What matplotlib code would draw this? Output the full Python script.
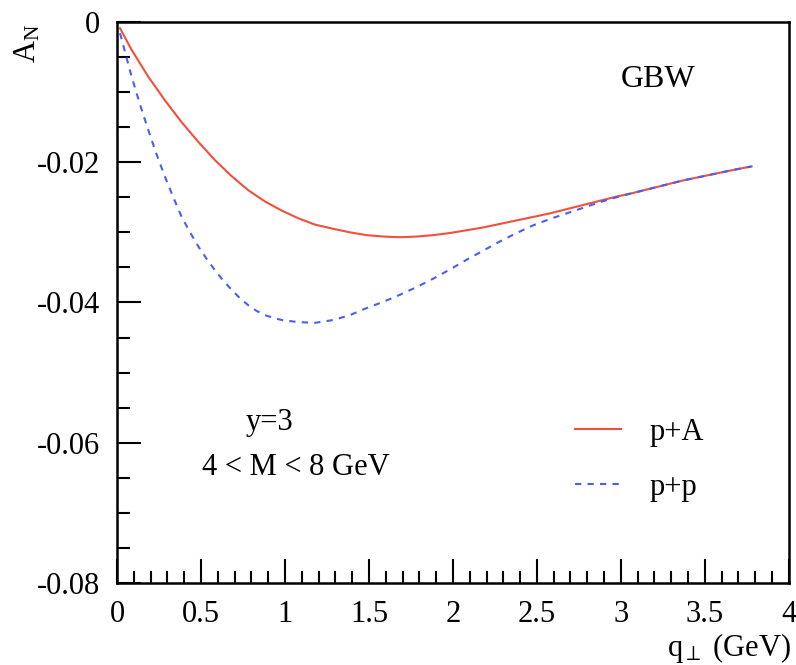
import matplotlib
matplotlib.use("Agg")
import matplotlib.pyplot as plt
from matplotlib.ticker import MultipleLocator, FuncFormatter

plt.rcParams['font.family'] = ['Liberation Serif', 'DejaVu Serif']
plt.rcParams['axes.unicode_minus'] = False
plt.rcParams['mathtext.fontset'] = 'custom'
plt.rcParams['mathtext.rm'] = 'Liberation Serif'
plt.rcParams['mathtext.it'] = 'Liberation Serif'

# data
q_pA = [0.018, 0.0875, 0.186, 0.286, 0.385, 0.484, 0.583, 0.683, 0.782, 0.881, 0.981,
        1.08, 1.179, 1.288, 1.387, 1.486, 1.586, 1.685, 1.784, 1.883, 1.982, 2.082,
        2.181, 2.280, 2.379, 2.478, 2.577, 2.676, 2.776, 2.875, 2.974, 3.07, 3.17,
        3.27, 3.37, 3.47, 3.57, 3.67, 3.778]
AN_pA = [-0.0009, -0.0040, -0.0078, -0.0112, -0.0143, -0.0171, -0.0197, -0.0220, -0.0240,
         -0.0256, -0.0269, -0.0280, -0.0289, -0.0295, -0.0300, -0.0304, -0.0306, -0.0307,
         -0.0306, -0.0304, -0.0301, -0.0297, -0.0293, -0.0288, -0.0283, -0.0278, -0.0273,
         -0.0267, -0.0261, -0.0255, -0.0249, -0.0244, -0.0238, -0.0232, -0.0226, -0.0221,
         -0.0216, -0.0211, -0.0206]

q_pp = [0.018, 0.05, 0.087, 0.136, 0.186, 0.236, 0.286, 0.335, 0.385, 0.435, 0.484, 0.534,
        0.583, 0.633, 0.683, 0.732, 0.782, 0.831, 0.881, 0.931, 0.981, 1.08, 1.179, 1.288,
        1.387, 1.486, 1.586, 1.685, 1.784, 1.883, 1.982, 2.082, 2.181, 2.280, 2.379, 2.478,
        2.577, 2.676, 2.776, 2.875, 2.974, 3.07, 3.17, 3.27, 3.37, 3.47, 3.57, 3.67, 3.778]
AN_pp = [-0.0016, -0.0045, -0.0078, -0.0117, -0.0154, -0.0189, -0.0221, -0.0250, -0.0278,
         -0.0300, -0.0320, -0.0338, -0.0354, -0.0369, -0.0382, -0.0394, -0.0404, -0.0412,
         -0.0418, -0.0422, -0.0425, -0.0428, -0.0429, -0.0425, -0.0418, -0.0408, -0.0399,
         -0.0389, -0.0378, -0.0366, -0.0353, -0.0339, -0.0326, -0.0313, -0.0301, -0.0290,
         -0.0281, -0.0273, -0.0265, -0.0257, -0.0250, -0.0244, -0.0238, -0.0232, -0.0226,
         -0.0221, -0.0216, -0.0211, -0.0206]

labels = ['p+A', 'p+p']

fig = plt.figure(figsize=(7.96, 6.65), dpi=100)
ax = fig.add_axes([0.147, 0.1233, 0.844, 0.8437])

ax.plot(q_pA, AN_pA, color='#f0503c', lw=1.5, label=labels[0])
ax.plot(q_pp, AN_pp, color='#4a5ef5', lw=1.5, ls=(0, (3, 3)), label=labels[1])

ax.set_xlim(0, 4)
ax.set_ylim(-0.08, 0)
ax.xaxis.set_major_locator(MultipleLocator(0.5))
ax.xaxis.set_minor_locator(MultipleLocator(0.1))
ax.yaxis.set_major_locator(MultipleLocator(0.02))
ax.yaxis.set_minor_locator(MultipleLocator(0.005))
ax.xaxis.set_major_formatter(FuncFormatter(lambda v, p: '%g' % v))
ax.yaxis.set_major_formatter(FuncFormatter(lambda v, p: '0' if abs(v) < 1e-12 else '%g' % v))

ax.tick_params(which='both', direction='in', top=False, right=False, labelsize=22, width=1.5)
ax.tick_params(which='major', length=17, pad=12)
ax.tick_params(which='minor', length=9)
for s in ax.spines.values():
    s.set_linewidth(1.8)

fig.text(0.035, 0.935, r'A$_\mathrm{N}$', rotation=90, fontsize=22, ha='center', va='center')
fig.text(0.993, 0.026, r'q$_\perp$ (GeV)', fontsize=22, ha='right', va='center')

ax.text(0.806, 0.897, 'GBW', transform=ax.transAxes, fontsize=23, ha='center', va='center')
ax.text(0.227, 0.286, 'y=3', transform=ax.transAxes, fontsize=22, ha='center', va='center')
ax.text(0.266, 0.205, '4 < M < 8 GeV', transform=ax.transAxes, fontsize=22, ha='center', va='center')

leg = ax.legend(loc='center left', bbox_to_anchor=(0.641, 0.219), frameon=False, fontsize=22,
                handlelength=1.5, handletextpad=0.95, labelspacing=0.85)

fig.savefig('out.png', dpi=100)
